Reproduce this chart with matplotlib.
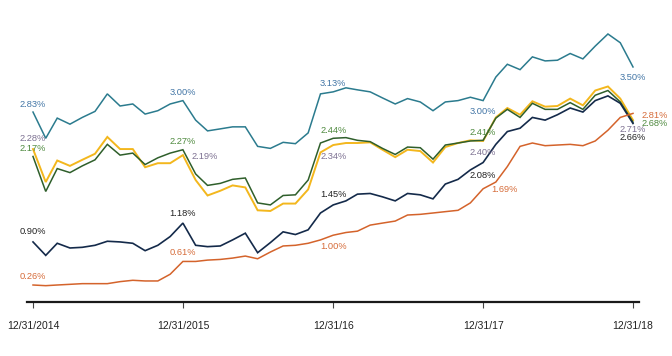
import matplotlib
matplotlib.use("Agg")
import matplotlib.pyplot as plt
import pandas as pd

# month-end observations, Dec 2014 .. Dec 2018
dates = pd.date_range("2014-12-31", periods=49, freq="ME")
tick_dates = pd.to_datetime(["2014-12-31", "2015-12-31", "2016-12-31", "2017-12-31", "2018-12-31"])
tick_labels = ["12/31/2014", "12/31/2015", "12/31/16", "12/31/17", "12/31/18"]
label_idx = [0, 12, 24, 36, 48]

teal = [2.83, 2.44, 2.74, 2.65, 2.75, 2.84, 3.10, 2.92, 2.95, 2.80, 2.85, 2.95, 3.00,
        2.71, 2.55, 2.58, 2.61, 2.61, 2.32, 2.29, 2.38, 2.36, 2.52, 3.10, 3.13,
        3.19, 3.16, 3.13, 3.04, 2.95, 3.03, 2.98, 2.85, 2.98, 3.00, 3.05, 3.00,
        3.35, 3.54, 3.46, 3.65, 3.59, 3.60, 3.70, 3.62, 3.81, 3.99, 3.86, 3.50]
green = [2.17, 1.65, 1.99, 1.93, 2.03, 2.12, 2.35, 2.19, 2.22, 2.05, 2.15, 2.22, 2.27,
         1.91, 1.74, 1.77, 1.83, 1.85, 1.48, 1.45, 1.59, 1.60, 1.82, 2.37, 2.44,
         2.45, 2.41, 2.39, 2.29, 2.20, 2.31, 2.30, 2.13, 2.34, 2.37, 2.40, 2.41,
         2.74, 2.87, 2.75, 2.96, 2.87, 2.87, 2.97, 2.87, 3.08, 3.15, 2.98, 2.68]
yellow = [2.28, 1.79, 2.11, 2.03, 2.12, 2.21, 2.46, 2.28, 2.28, 2.01, 2.07, 2.07, 2.19,
          1.82, 1.59, 1.66, 1.74, 1.71, 1.37, 1.36, 1.47, 1.47, 1.68, 2.23, 2.34,
          2.37, 2.37, 2.38, 2.27, 2.16, 2.27, 2.25, 2.08, 2.31, 2.37, 2.41, 2.40,
          2.75, 2.89, 2.79, 2.99, 2.91, 2.92, 3.03, 2.93, 3.15, 3.21, 3.03, 2.71]
navy = [0.90, 0.70, 0.88, 0.81, 0.82, 0.85, 0.91, 0.90, 0.88, 0.77, 0.85, 0.98, 1.18,
        0.85, 0.83, 0.84, 0.93, 1.03, 0.74, 0.89, 1.05, 1.01, 1.08, 1.33, 1.45,
        1.51, 1.61, 1.62, 1.57, 1.51, 1.62, 1.60, 1.54, 1.76, 1.83, 1.97, 2.08,
        2.35, 2.54, 2.59, 2.75, 2.71, 2.79, 2.89, 2.83, 3.00, 3.07, 2.96, 2.66]
orange = [0.26, 0.25, 0.26, 0.27, 0.28, 0.28, 0.28, 0.31, 0.33, 0.32, 0.32, 0.42, 0.61,
          0.61, 0.63, 0.64, 0.66, 0.69, 0.65, 0.75, 0.84, 0.85, 0.88, 0.93, 1.00,
          1.04, 1.06, 1.15, 1.18, 1.21, 1.30, 1.31, 1.33, 1.35, 1.37, 1.48, 1.69,
          1.79, 2.02, 2.32, 2.37, 2.33, 2.34, 2.35, 2.33, 2.40, 2.56, 2.75, 2.81]

# (values, line colour, text colour, line width, label offsets in px (dx, dy, ha))
series = [
    (teal, "#2b7b8e", "#4376a6", 1.1,
     [(0, 8, "center"), (0, 8, "center"), (0, 8, "center"), (0, -11, "center"), (0, -11, "center")]),
    (yellow, "#f3b71d", "#7d7192", 1.4,
     [(0, 11, "center"), (21.5, -1, "center"), (0, -11, "center"), (0, -12, "center"), (0, -9, "center")]),
    (green, "#2f5f2b", "#4f8a3f", 1.1,
     [(0, 8, "center"), (0, 8, "center"), (0, 8, "center"), (0, 8, "center"), (9, -1.5, "left")]),
    (navy, "#142a4a", "#222222", 1.2,
     [(0, 10, "center"), (0, 10, "center"), (0, 10, "center"), (0, -13, "center"), (0, -14, "center")]),
    (orange, "#d4632b", "#d66c3a", 1.1,
     [(0, 9, "center"), (0, 9, "center"), (0, -11, "center"), (21.5, -1, "center"), (9, -1.7, "left")]),
]

plt.rcParams["font.family"] = ["Liberation Sans", "DejaVu Sans"]

fig = plt.figure(figsize=(6.72, 3.56), dpi=100)
ax = fig.add_axes([0, 0, 1, 1])

for vals, lc, tc, lw, offs in series:
    ax.plot(dates, vals, color=lc, linewidth=lw, solid_joinstyle="miter")
    for i, (dx, dy, ha) in zip(label_idx, offs):
        ax.annotate(f"{vals[i]:.2f}%", (dates[i], vals[i]),
                    xytext=(dx * 0.72, dy * 0.72), textcoords="offset points",
                    ha=ha, va="center", fontsize=6.7, color=tc)

# map 12/31/2014 -> x=33px and 12/31/2018 -> x=633px
d0 = matplotlib.dates.date2num(tick_dates[0])
d1 = matplotlib.dates.date2num(tick_dates[-1])
span = d1 - d0
ax.set_xlim(d0 - 33 / 600 * span, d0 + 639 / 600 * span)
ax.set_ylim(-0.795, 4.495)

for s in ["top", "left", "right"]:
    ax.spines[s].set_visible(False)
ax.spines["bottom"].set_position(("data", 0))
ax.spines["bottom"].set_bounds(d0 - 6 / 600 * span, d1 + 6 / 600 * span)
ax.spines["bottom"].set_linewidth(1.6)
ax.spines["bottom"].set_color("#1a1a1a")

ax.set_yticks([])
ax.set_xticks(tick_dates)
ax.set_xticklabels(tick_labels)
ax.tick_params(axis="x", direction="out", length=4, width=0.8, color="#444444",
               pad=9, labelsize=7.5, labelcolor="#222222")
ax.patch.set_visible(False)

fig.savefig("out.png", dpi=100)
